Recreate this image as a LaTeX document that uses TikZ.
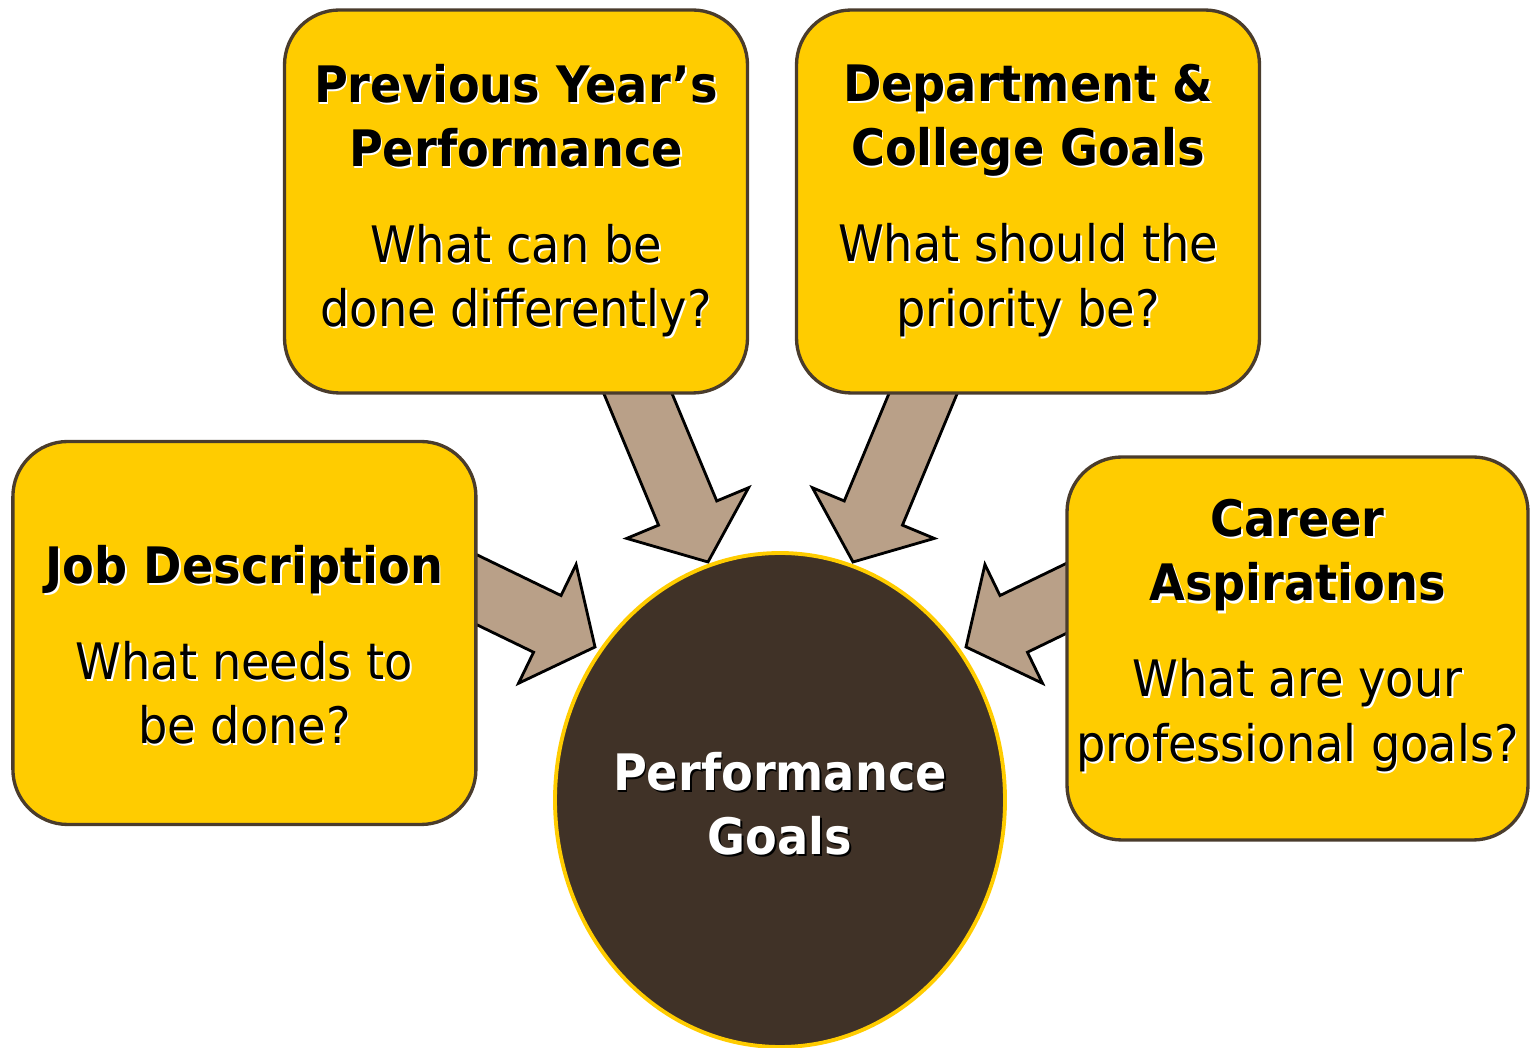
\documentclass[tikz,border=0pt]{standalone}
\usepackage{fontspec}
\setmainfont{DejaVu Sans}[FakeStretch=0.92]
\usetikzlibrary{calc,backgrounds,shapes.geometric}

\definecolor{boxyellow}{HTML}{FFCC00}
\definecolor{boxedge}{HTML}{4A3C2C}
\definecolor{goalbrown}{HTML}{403227}
\definecolor{arrowtan}{HTML}{B9A088}

% text with a small drop shadow behind it
\newcommand{\shadowed}[2][white]{\rlap{\kern0.5pt\raisebox{-0.6pt}{\color{#1}#2}}#2}

\begin{document}
\begin{tikzpicture}[
  yellowbox/.style={rectangle, rounded corners=0.55cm, draw=boxedge, line width=0.95pt,
    fill=boxyellow, minimum width=4.63cm, minimum height=3.83cm, inner sep=0pt},
  boxtext/.style={inner sep=0pt, align=center, font=\fontsize{14.3}{18.3}\selectfont},
  goalnode/.style={ellipse, draw=boxyellow, line width=1.1pt, fill=goalbrown,
    minimum width=4.5cm, minimum height=4.94cm, inner sep=0pt},
  goaltext/.style={boxtext, text=white, font=\fontsize{14.3}{18.3}\selectfont\bfseries},
  flow/.style={draw=black, line width=0.8pt, fill=arrowtan, line join=miter,
    to path={
      ($(\tikztotarget)!0.53cm!(\tikztostart)$) coordinate (hb)
      ($(\tikztostart)!0.315cm!90:(\tikztotarget)$)
      -- ($(hb)!0.315cm!90:(\tikztotarget)$)
      -- ($(hb)!0.66cm!90:(\tikztotarget)$)
      -- (\tikztotarget)
      -- ($(hb)!0.66cm!-90:(\tikztotarget)$)
      -- ($(hb)!0.315cm!-90:(\tikztotarget)$)
      -- ($(\tikztostart)!0.315cm!-90:(\tikztotarget)$)
      -- cycle}}
]
  \useasboundingbox (0,0) rectangle (15.3,10.48);

  \node[goalnode] (goal) at (7.80,2.48) {};
  \node[goaltext] (goal-text) at ($(goal.center)+(0,-0.05)$)
    {\shadowed[black]{Performance}\\ \shadowed[black]{Goals}};

  \node[yellowbox] (prev) at (5.16,8.465) {};
  \node[yellowbox] (dept) at (10.28,8.465) {};
  \node[yellowbox] (job) at (2.444,4.15) {};
  \node[yellowbox, minimum width=4.61cm] (career) at (12.975,3.995) {};

  \node[boxtext] (prev-text) at (prev.center)
    {\shadowed{\textbf{Previous Year’s}}\\ \shadowed{\textbf{Performance}}\\[9pt]
     \shadowed{What can be}\\ \shadowed{done differently?}};
  \node[boxtext] (dept-text) at (dept.center)
    {\shadowed{\textbf{Department \&}}\\ \shadowed{\textbf{College Goals}}\\[9pt]
     \shadowed{What should the}\\ \shadowed{priority be?}};
  \node[boxtext] (job-text) at ($(job.center)+(0,-0.13)$)
    {\shadowed{\textbf{Job Description}}\\[9pt]
     \shadowed{What needs to}\\ \shadowed{be done?}};
  \node[boxtext] (career-text) at ($(career.center)+(0,0.12)$)
    {\shadowed{\textbf{Career}}\\ \shadowed{\textbf{Aspirations}}\\[9pt]
     \shadowed{What are your}\\ \shadowed{professional goals?}};

  % arrow ends: tails sit under the boxes, tips at the ellipse
  \coordinate (from-prev) at ($(prev.south)+(1.07,0.37)$);
  \coordinate (from-dept) at ($(dept.south)+(-0.90,0.37)$);
  \coordinate (from-job) at ($(job.center)+(1.706,0.732)$);
  \coordinate (from-career) at ($(career.center)+(-1.515,0.887)$);
  \coordinate (to-prev) at ($(goal.center)+(-0.72,2.38)$);
  \coordinate (to-dept) at ($(goal.center)+(0.73,2.38)$);
  \coordinate (to-job) at ($(goal.center)+(-1.85,1.53)$);
  \coordinate (to-career) at ($(goal.center)+(1.86,1.53)$);

  \begin{scope}[on background layer]
    \draw[flow] (from-prev) to (to-prev);
    \draw[flow] (from-dept) to (to-dept);
    \draw[flow] (from-job) to (to-job);
    \draw[flow] (from-career) to (to-career);
  \end{scope}
\end{tikzpicture}
\end{document}
